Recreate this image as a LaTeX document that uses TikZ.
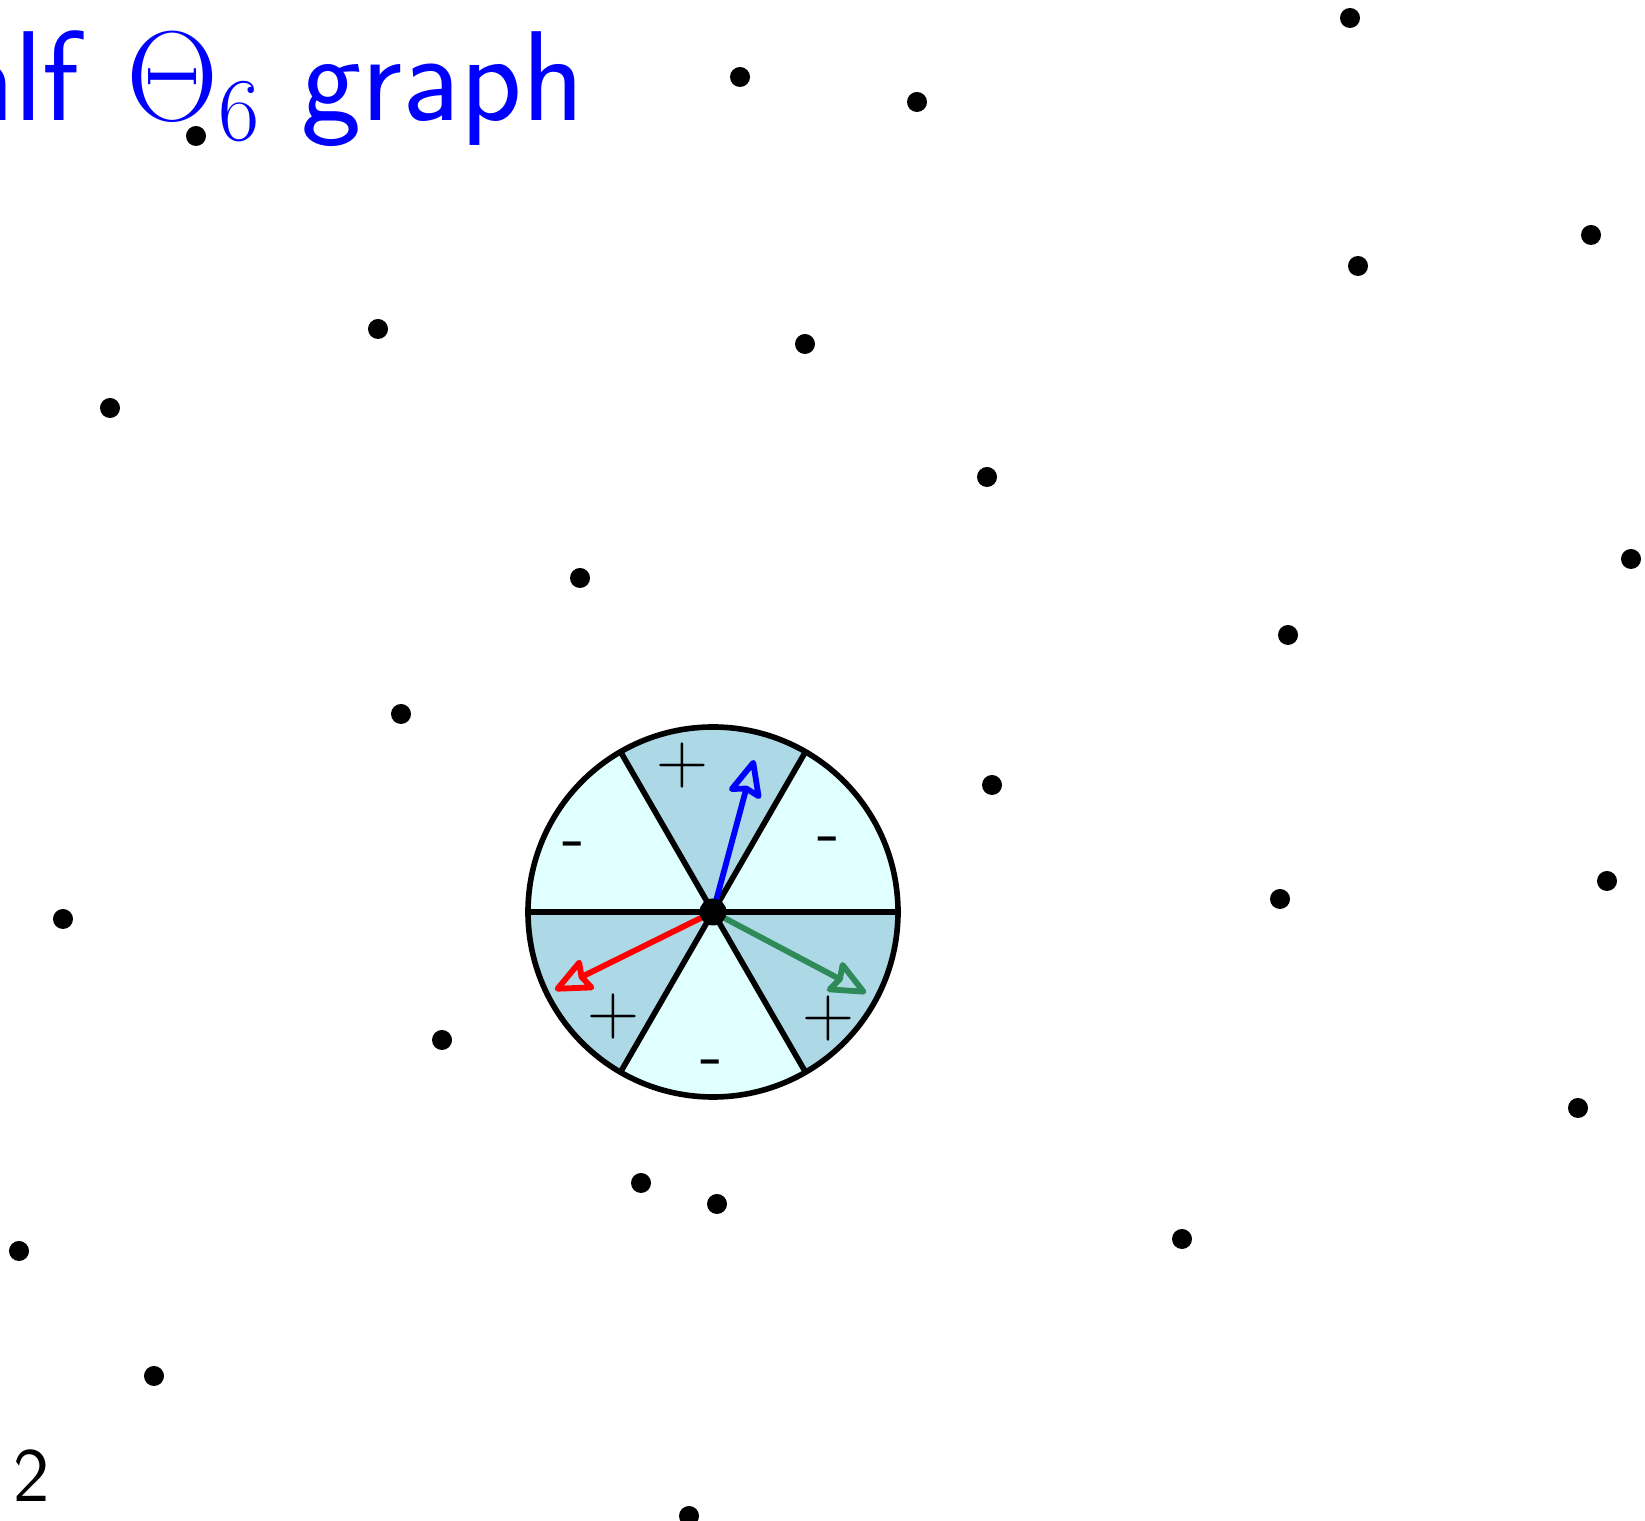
\RequirePackage{fix-cm}
\documentclass[tikz,border=0pt]{standalone}
\usetikzlibrary{arrows.meta}

\definecolor{coneplus}{RGB}{173,216,230}
\definecolor{coneminus}{RGB}{224,255,255}
\definecolor{arrowgreen}{RGB}{46,139,87}

\begin{document}
\begin{tikzpicture}[
  x=0.01cm, y=0.01cm,
  site/.style={circle, fill=black, inner sep=0pt, minimum size=2mm},
  hub/.style={site, minimum size=2.7mm},
  sign/.style={inner sep=0pt, font=\fontsize{20.5}{24}\selectfont},
  minus/.style={sign, font=\sffamily\fontsize{20.5}{24}\selectfont},
  spoke/.style={draw=black, line width=1.6pt},
  vec/.style={line width=1.65pt, -{Stealth[open, round, length=12pt, width=10.5pt, inset=1.5pt]}},
]
\useasboundingbox (0,0) rectangle (1645,1521);

% title, cut off at the left
\node[anchor=base east, inner sep=0pt, text=blue, font=\sffamily\fontsize{36.4}{40}\selectfont] (title) at (585,1400) {Half\hspace{2pt} $\Theta_6$ graph};
\node[anchor=base west, inner sep=0pt, font=\sffamily\fontsize{21.9}{26}\selectfont] (pagenum) at (13,19) {2};

% the six cones around the vertex
\coordinate (o) at (713,609);
\foreach \a in {0,120,240}
  \fill[coneminus] (o) -- +(\a:185) arc[start angle=\a, end angle=\a+60, radius=185] -- cycle;
\foreach \a in {60,180,300}
  \fill[coneplus] (o) -- +(\a:185) arc[start angle=\a, end angle=\a+60, radius=185] -- cycle;
\draw[spoke] (o) circle[radius=185];
\foreach \a in {0,60,...,300}
  \draw[spoke] (o) -- +(\a:185);

\node[sign] (s1) at (682,756) {$+$};
\node[sign] (s2) at (613,505) {$+$};
\node[sign] (s3) at (828,503) {$+$};
\node[minus] (s4) at (574,670) {-};
\node[minus] (s5) at (829,675) {-};
\node[minus] (s6) at (712,452) {-};

% nearest neighbours in the cones
\coordinate (tb) at (754,761);
\coordinate (tr) at (555,531);
\coordinate (tg) at (866,528);
\draw[vec, blue] (o) -- (tb);
\draw[vec, red] (o) -- (tr);
\draw[vec, arrowgreen] (o) -- (tg);
\node[hub] (v) at (o) {};

% point set
\foreach \x/\y [count=\i] in {1350/1503, 740/1444, 917/1419, 196/1385, 1591/1286,
    1358/1255, 378/1192, 805/1177, 110/1113, 987/1044, 1631/962, 580/943,
    1288/886, 401/807, 992/736, 1607/640, 63/602, 1280/622, 442/481,
    1578/413, 641/338, 717/317, 1182/282, 19/270, 154/145, 689/5}
  \node[site] (p\i) at (\x,\y) {};
\end{tikzpicture}
\end{document}
